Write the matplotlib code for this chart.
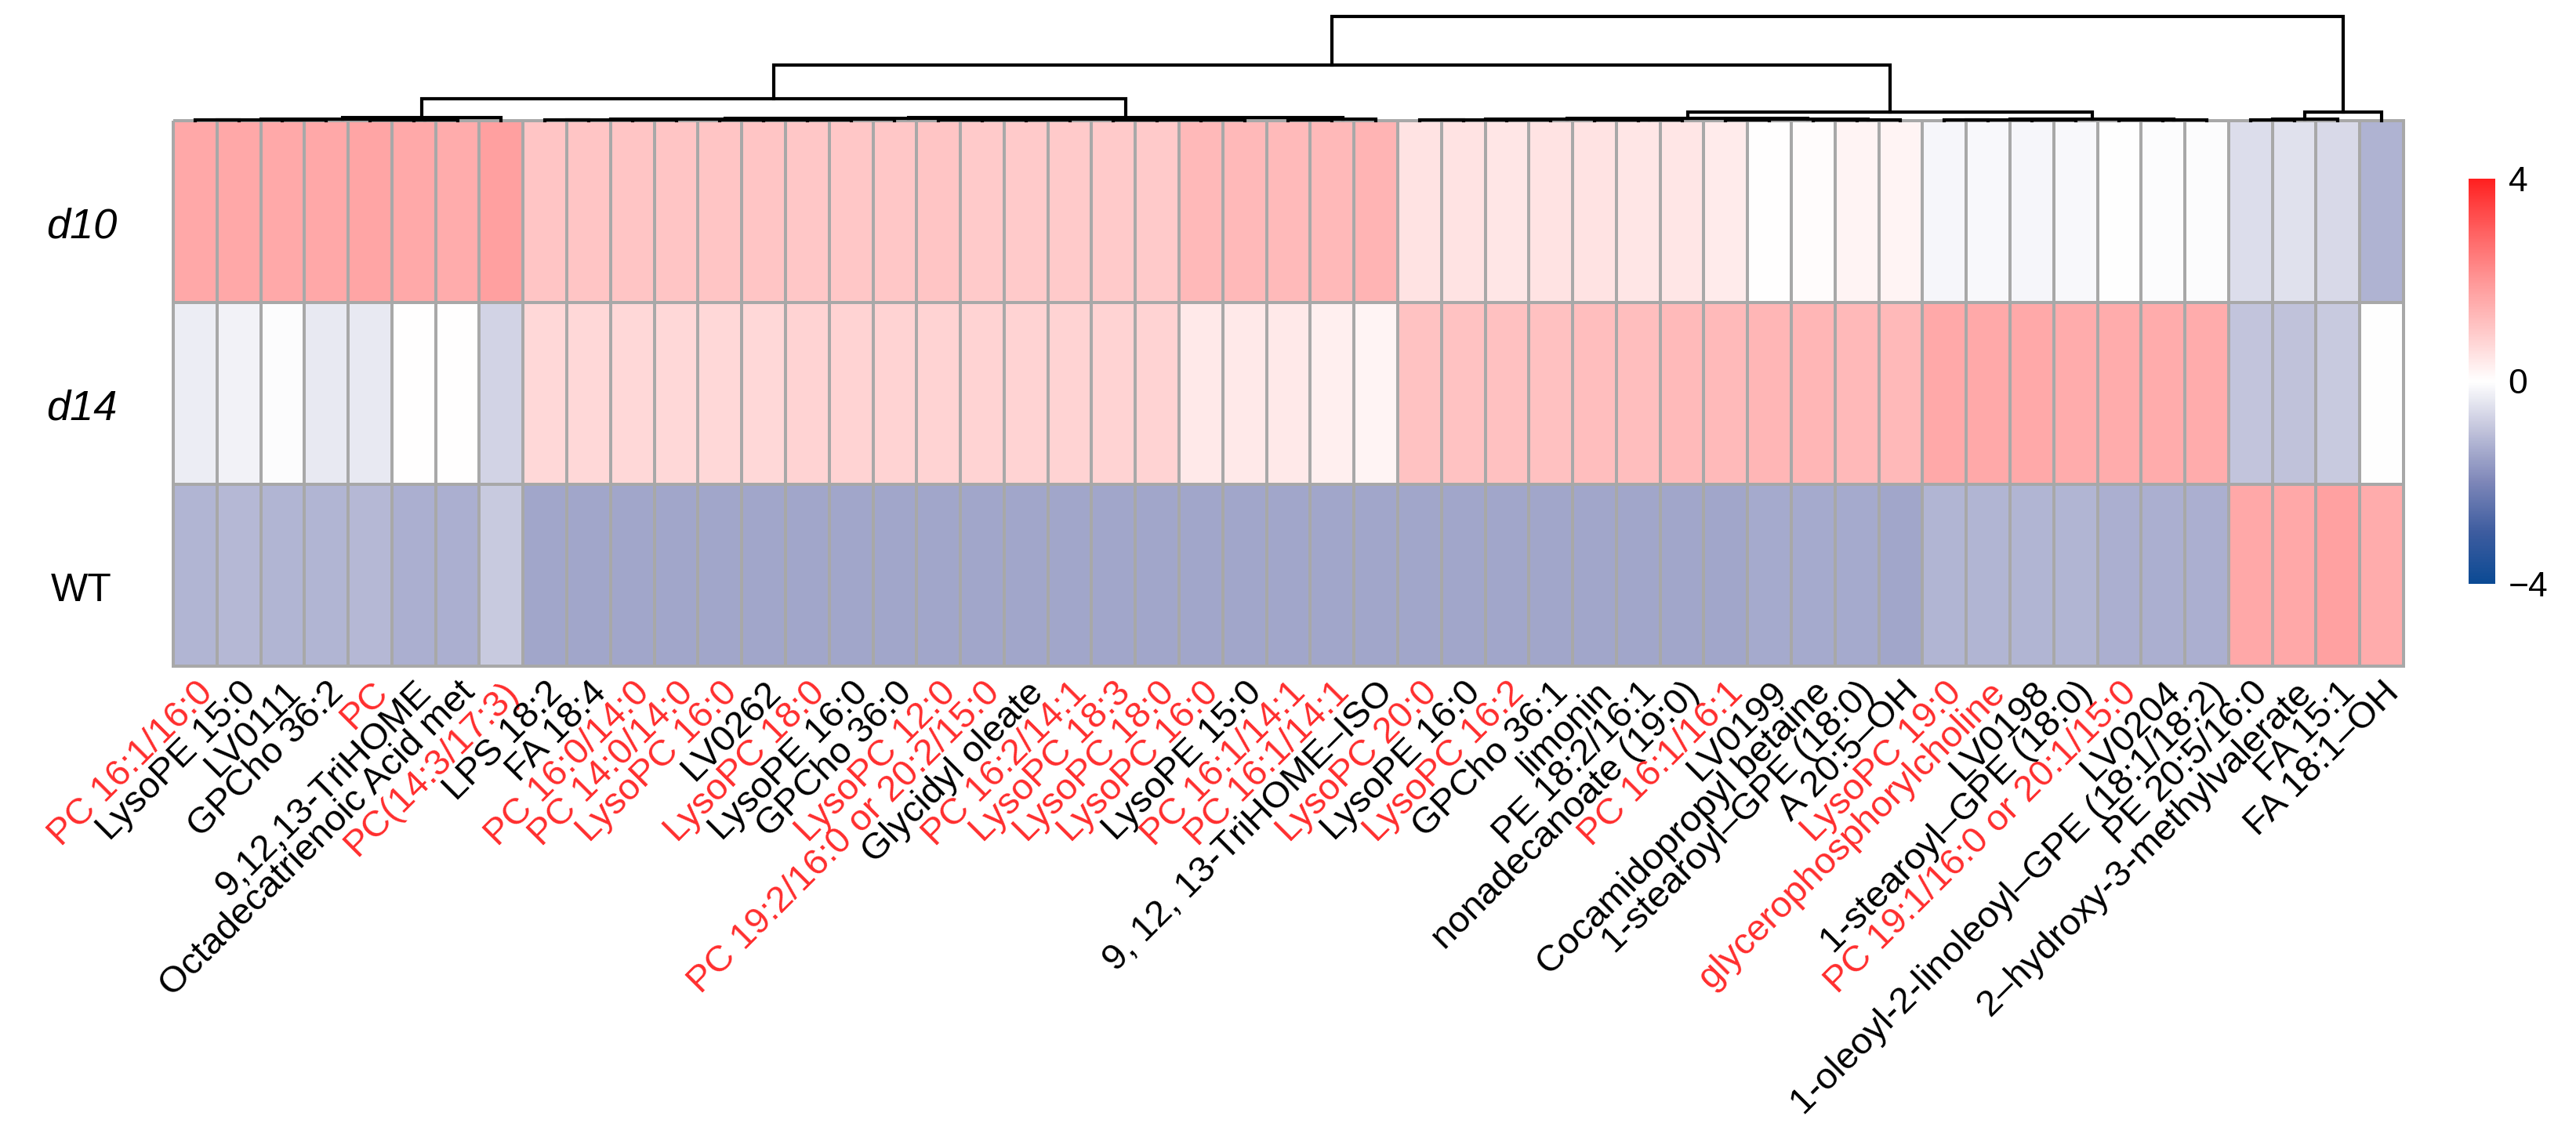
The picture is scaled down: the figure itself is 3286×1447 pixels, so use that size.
import numpy as np
import matplotlib.pyplot as plt
from matplotlib.colors import LinearSegmentedColormap

plt.rcParams['font.family'] = ['Liberation Sans', 'DejaVu Sans']

# ── Data ──────────────────────────────────────────────────────
groups = ['d10', 'd14', 'WT']
group_italic = [True, True, False]

metabolites = [
    'PC 16:1/16:0', 'LysoPE 15:0', 'LV0111', 'GPCho 36:2', 'PC',
    '9,12,13-TriHOME', 'Octadecatrienoic Acid met', 'PC(14:3/17:3)',
    'LPS 18:2', 'FA 18:4', 'PC 16:0/14:0', 'PC 14:0/14:0', 'LysoPC 16:0',
    'LV0262', 'LysoPC 18:0', 'LysoPE 16:0', 'GPCho 36:0', 'LysoPC 12:0',
    'PC 19:2/16:0 or 20:2/15:0', 'Glycidyl oleate', 'PC 16:2/14:1',
    'LysoPC 18:3', 'LysoPC 18:0', 'LysoPC 16:0', 'LysoPE 15:0',
    'PC 16:1/14:1', 'PC 16:1/14:1', '9, 12, 13-TriHOME\u2013ISO',
    'LysoPC 20:0', 'LysoPE 16:0', 'LysoPC 16:2', 'GPCho 36:1', 'limonin',
    'PE 18:2/16:1', 'nonadecanoate (19:0)', 'PC 16:1/16:1', 'LV0199',
    'Cocamidopropyl betaine', '1-stearoyl\u2013GPE (18:0)', 'A 20:5\u2013OH',
    'LysoPC 19:0', 'glycerophosphorylcholine', 'LV0198',
    '1-stearoyl\u2013GPE (18:0)', 'PC 19:1/16:0 or 20:1/15:0', 'LV0204',
    '1-oleoyl-2-linoleoyl\u2013GPE (18:1/18:2)', 'PE 20:5/16:0',
    '2\u2013hydroxy-3-methylvalerate', 'FA 15:1', 'FA 18:1\u2013OH',
]

# 1 = label printed in red
highlight = [1, 0, 0, 0, 1, 0, 0, 1,
             0, 0, 1, 1, 1, 0, 1, 0, 0, 1, 1, 0, 1, 1, 1, 1, 0, 1, 1, 0,
             1, 0, 1, 0, 0, 0, 0, 1, 0, 0, 0, 0, 1, 1, 0, 0, 1, 0, 0,
             0, 0, 0, 0]

d10 = [1.65, 1.65, 1.6, 1.65, 1.7, 1.6, 1.55, 1.8,
       1.05, 1.05, 1.05, 1.05, 1.05, 1.05, 1.0, 1.0, 1.0, 1.05, 0.95,
       0.95, 0.95, 0.95, 0.95,
       1.3, 1.3, 1.25, 1.3, 1.4,
       0.5, 0.5, 0.45, 0.5, 0.5, 0.45, 0.45, 0.35,
       0.03, 0.05, 0.2, 0.2,
       -0.15, -0.12, -0.15, -0.1, -0.03, -0.04, -0.05,
       -0.55, -0.5, -0.6, -1.25]

d14 = [-0.3, -0.2, -0.05, -0.35, -0.35, 0.0, 0.0, -0.7,
       0.7, 0.7, 0.7, 0.7, 0.7, 0.7, 0.8, 0.8, 0.8, 0.8, 0.8,
       0.8, 0.8, 0.8, 0.8,
       0.4, 0.4, 0.4, 0.3, 0.2,
       1.1, 1.1, 1.15, 1.15, 1.2, 1.2, 1.25, 1.25,
       1.35, 1.35, 1.3, 1.3,
       1.6, 1.6, 1.6, 1.55, 1.55, 1.55, 1.55,
       -0.95, -1.0, -0.85, -0.02]

wt = [-1.2, -1.15, -1.2, -1.2, -1.15, -1.3, -1.3, -0.85,
      -1.45, -1.45, -1.45, -1.45, -1.45, -1.45, -1.45, -1.45, -1.45, -1.45,
      -1.45, -1.45, -1.45, -1.45, -1.45,
      -1.45, -1.45, -1.45, -1.45, -1.45,
      -1.45, -1.45, -1.45, -1.45, -1.45, -1.45, -1.45, -1.45,
      -1.4, -1.4, -1.4, -1.45,
      -1.2, -1.2, -1.2, -1.2, -1.3, -1.3, -1.3,
      1.65, 1.65, 1.75, 1.55]

# column dendrogram, linkage style: (left id, right id, height); new ids start at 51
merges = [
    (0, 1, 1.0), (2, 3, 1.0), (51, 52, 1.5), (4, 5, 0.8), (54, 6, 1.2),
    (53, 55, 2.0), (56, 7, 4.0),
    (8, 9, 0.8), (10, 11, 0.8), (58, 59, 1.2), (12, 13, 0.8), (14, 15, 0.8),
    (61, 62, 1.2), (63, 16, 1.6), (60, 64, 2.2), (17, 18, 0.8), (19, 20, 0.8),
    (66, 67, 1.2), (21, 22, 0.8), (23, 24, 0.8), (69, 70, 1.2), (68, 71, 1.8),
    (65, 72, 2.8), (25, 26, 0.8), (74, 27, 1.6), (73, 75, 4.0),
    (57, 76, 28.0),
    (28, 29, 0.8), (30, 31, 0.8), (78, 79, 1.2), (32, 33, 0.8), (81, 34, 1.2),
    (80, 82, 1.8), (35, 36, 0.8), (37, 38, 0.8), (85, 39, 1.2), (84, 86, 1.8),
    (83, 87, 3.5), (40, 41, 0.8), (42, 43, 0.8), (89, 90, 1.2), (44, 45, 0.8),
    (92, 46, 1.2), (91, 93, 2.0), (88, 94, 11.0),
    (77, 95, 71.0),
    (47, 48, 1.0), (97, 49, 2.0), (98, 50, 11.0),
    (96, 99, 133.0),
]

cbar_ticks = [-4, 0, 4]
cbar_labels = ['\u22124', '0', '4']

# ── Colour map ────────────────────────────────────────────────
cmap = LinearSegmentedColormap.from_list('bwr_custom', [
    (0.000, '#0b4a94'), (0.125, '#3d5c9f'), (0.250, '#7d86b8'),
    (0.375, '#bfc1da'), (0.500, '#ffffff'), (0.625, '#ffc8c8'),
    (0.750, '#ff9696'), (0.875, '#ff5f5f'), (1.000, '#ff2020'),
])

# ── Figure ────────────────────────────────────────────────────
W, H = 3286, 1447
fig = plt.figure(figsize=(W / 100, H / 100), dpi=100)

hm_left, hm_right, hm_top, hm_bottom = 221, 3066, 154, 850
ax = fig.add_axes([hm_left / W, 1 - hm_bottom / H,
                   (hm_right - hm_left) / W, (hm_bottom - hm_top) / H])

data = np.array([d10, d14, wt])
n = data.shape[1]
mesh = ax.pcolormesh(data, cmap=cmap, vmin=-4, vmax=4,
                     edgecolors='#a8a8a8', linewidth=2.6)
mesh.set_clip_on(False)
ax.set_xlim(0, n)
ax.set_ylim(len(groups), 0)
ax.set_xticks([])
ax.set_yticks([])
for s in ax.spines.values():
    s.set_visible(False)

# row labels
row_h = (hm_bottom - hm_top) / len(groups)
for i, g in enumerate(groups):
    y = hm_top + row_h * (i + 0.5) + 20
    fig.text(104 / W, 1 - y / H, g, fontsize=39 if group_italic[i] else 36,
             ha='center', va='center',
             style='italic' if group_italic[i] else 'normal')

# column labels
for i, lab in enumerate(metabolites):
    ax.text(i + 0.5, len(groups) + 0.05, lab, rotation=45, rotation_mode='anchor',
            ha='right', va='top', fontsize=34, clip_on=False,
            color='#ff2d2d' if highlight[i] else 'black')

# ── Dendrogram ────────────────────────────────────────────────
axd = fig.add_axes([hm_left / W, 1 - hm_top / H,
                    (hm_right - hm_left) / W, (hm_top - 15) / H])
axd.set_xlim(0, n)
axd.set_ylim(0, hm_top - 15)
axd.axis('off')

pos = {i: i + 0.5 for i in range(n)}
hgt = {i: 0.0 for i in range(n)}
for k, (a, b, h) in enumerate(merges):
    xa, xb = pos[a], pos[b]
    axd.plot([xa, xa, xb, xb], [hgt[a], h, h, hgt[b]], color='black',
             lw=3, clip_on=False, solid_joinstyle='miter')
    pos[n + k] = (xa + xb) / 2
    hgt[n + k] = h

# ── Colour bar ────────────────────────────────────────────────
cax = fig.add_axes([3149 / W, 1 - 745 / H, 34 / W, 517 / H])
cb = fig.colorbar(mesh, cax=cax, ticks=cbar_ticks)
cb.outline.set_visible(False)
cb.set_ticklabels(cbar_labels)
cax.tick_params(length=0, labelsize=32, pad=12)

fig.savefig('out.png', dpi=100)
